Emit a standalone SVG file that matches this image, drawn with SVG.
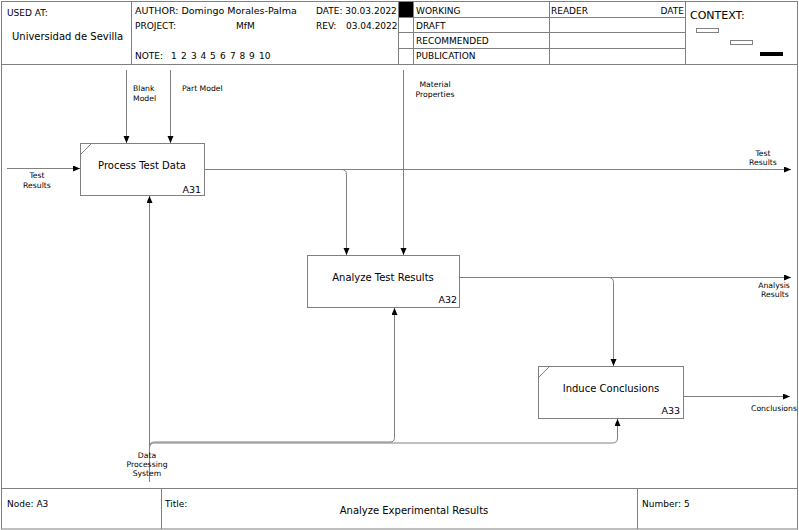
<svg xmlns="http://www.w3.org/2000/svg" width="799" height="530" viewBox="0 0 799 530">
  <defs>
    <style>
      .frame { stroke: #808080; stroke-width: 1; fill: none; }
      .box { stroke: #808080; stroke-width: 1; fill: #ffffff; }
      .wire { stroke: #808080; stroke-width: 1; fill: none; }
      .hdr { font-family: "DejaVu Sans", sans-serif; font-size: 9px; fill: #000; }
      .ttl { font-family: "DejaVu Sans", sans-serif; font-size: 10px; fill: #000; }
      .lbl { font-family: "DejaVu Sans", sans-serif; font-size: 7.7px; fill: #000; }
      .num { font-family: "DejaVu Sans", sans-serif; font-size: 9.5px; fill: #000; text-anchor: end; }
      .mid { text-anchor: middle; }
    </style>
    <marker id="arrow" markerUnits="userSpaceOnUse" markerWidth="8" markerHeight="7" refX="7" refY="3" orient="auto">
      <path d="M0,0 L7,3 L0,6 z" fill="#000"/>
    </marker>
  </defs>

  <rect x="0" y="0" width="799" height="530" fill="#ffffff"/>

  <!-- page frame and title block -->
  <g id="frame">
    <rect class="frame" x="1.5" y="1.5" width="796" height="527.5"/>
    <line class="frame" x1="1" y1="64.5" x2="798" y2="64.5"/>
    <line class="frame" x1="131.5" y1="1" x2="131.5" y2="64"/>
    <line class="frame" x1="398.5" y1="1" x2="398.5" y2="64"/>
    <line class="frame" x1="413.5" y1="1" x2="413.5" y2="64"/>
    <line class="frame" x1="549.5" y1="1" x2="549.5" y2="64"/>
    <line class="frame" x1="685.5" y1="1" x2="685.5" y2="64"/>
    <line class="frame" x1="398" y1="17.5" x2="686" y2="17.5"/>
    <line class="frame" x1="398" y1="32.5" x2="686" y2="32.5"/>
    <line class="frame" x1="398" y1="48.5" x2="686" y2="48.5"/>
    <rect x="399" y="2" width="14" height="15" fill="#000"/>
    <line class="frame" x1="1" y1="488.5" x2="798" y2="488.5"/>
    <line class="frame" x1="161.5" y1="488" x2="161.5" y2="529"/>
    <line class="frame" x1="637.5" y1="488" x2="637.5" y2="529"/>

    <text class="hdr" x="7" y="16">USED AT:</text>
    <text class="hdr" x="12" y="40" style="font-size:10px">Universidad de Sevilla</text>
    <text class="hdr" x="135" y="14" style="font-size:9.5px">AUTHOR: Domingo Morales-Palma</text>
    <text class="hdr" x="316" y="14">DATE: 30.03.2022</text>
    <text class="hdr" x="135" y="29">PROJECT:</text>
    <text class="hdr" x="236" y="29">MfM</text>
    <text class="hdr" x="316" y="29">REV:</text>
    <text class="hdr" x="346" y="29">03.04.2022</text>
    <text class="hdr" y="59"><tspan x="135">NOTE:</tspan><tspan x="171">1</tspan><tspan x="181">2</tspan><tspan x="191">3</tspan><tspan x="200.5">4</tspan><tspan x="210">5</tspan><tspan x="220">6</tspan><tspan x="230">7</tspan><tspan x="239.5">8</tspan><tspan x="249">9</tspan><tspan x="259">10</tspan></text>

    <text class="hdr" x="416" y="14">WORKING</text>
    <text class="hdr" x="416" y="29">DRAFT</text>
    <text class="hdr" x="416" y="44">RECOMMENDED</text>
    <text class="hdr" x="416" y="59">PUBLICATION</text>
    <text class="hdr" x="551" y="14">READER</text>
    <text class="hdr" x="684" y="14" text-anchor="end">DATE</text>

    <text class="hdr" x="690" y="19" style="font-size:11px">CONTEXT:</text>
    <rect class="frame" x="696.5" y="28.5" width="22" height="4"/>
    <rect class="frame" x="730.5" y="40.5" width="22" height="4"/>
    <rect x="760" y="52" width="23" height="4" fill="#000"/>

    <text class="hdr" x="7" y="507">Node:  A3</text>
    <text class="hdr" x="165" y="507">Title:</text>
    <text class="hdr mid" x="414" y="514" style="font-size:10px">Analyze Experimental Results</text>
    <text class="hdr" x="642" y="507">Number: 5</text>
  </g>

  <!-- activity boxes -->
  <g id="A31">
    <rect class="box" x="80.5" y="143.5" width="124" height="52"/>
    <line class="frame" x1="80.5" y1="154.5" x2="91.5" y2="143.5"/>
    <text class="ttl mid" x="142" y="169">Process Test Data</text>
    <text class="num" x="201" y="193">A31</text>
  </g>
  <g id="A32">
    <rect class="box" x="307.5" y="255.5" width="152" height="52"/>
    <text class="ttl mid" x="383" y="281">Analyze Test Results</text>
    <text class="num" x="457" y="303">A32</text>
  </g>
  <g id="A33">
    <rect class="box" x="538.5" y="366.5" width="145" height="52"/>
    <line class="frame" x1="538.5" y1="377.5" x2="549.5" y2="366.5"/>
    <text class="ttl mid" x="611" y="392">Induce Conclusions</text>
    <text class="num" x="680" y="414">A33</text>
  </g>

  <!-- arrows between activities and boundary -->
  <g id="connectors">
    <path class="wire" d="M7,168.5 H80" marker-end="url(#arrow)"/>
    <path class="wire" d="M126.5,70 V143" marker-end="url(#arrow)"/>
    <path class="wire" d="M170.5,70 V143" marker-end="url(#arrow)"/>
    <path class="wire" d="M403.5,70 V255" marker-end="url(#arrow)"/>
    <path class="wire" d="M205,169.5 H791" marker-end="url(#arrow)"/>
    <path class="wire" d="M205,169.5 H341.5 Q346.5,169.5 346.5,174.5 V255" marker-end="url(#arrow)"/>
    <path class="wire" d="M460,277.5 H791" marker-end="url(#arrow)"/>
    <path class="wire" d="M460,277.5 H608.5 Q613.5,277.5 613.5,282.5 V366" marker-end="url(#arrow)"/>
    <path class="wire" d="M684,396.5 H790" marker-end="url(#arrow)"/>
    <path class="wire" d="M149.5,482 V196" marker-end="url(#arrow)"/>
    <path class="wire" d="M149.5,447 Q149.5,442 154.5,442 H390 Q394.5,442 394.5,437.5 V308" marker-end="url(#arrow)"/>
    <path class="wire" d="M149.5,448 Q149.5,443 154.5,443 H612.5 Q617.5,443 617.5,438 V419" marker-end="url(#arrow)"/>

    <text class="lbl" x="133" y="91">Blank</text>
    <text class="lbl" x="133" y="101">Model</text>
    <text class="lbl" x="182" y="91">Part Model</text>
    <text class="lbl mid" x="435" y="87">Material</text>
    <text class="lbl mid" x="435" y="97">Properties</text>
    <text class="lbl mid" x="37" y="178">Test</text>
    <text class="lbl mid" x="37" y="188">Results</text>
    <text class="lbl mid" x="763" y="156">Test</text>
    <text class="lbl mid" x="763" y="165">Results</text>
    <text class="lbl mid" x="774" y="288">Analysis</text>
    <text class="lbl mid" x="775" y="297">Results</text>
    <text class="lbl mid" x="774" y="411">Conclusions</text>
    <text class="lbl mid" x="147" y="458">Data</text>
    <text class="lbl mid" x="147" y="467">Processing</text>
    <text class="lbl mid" x="147" y="476">System</text>
  </g>
</svg>
